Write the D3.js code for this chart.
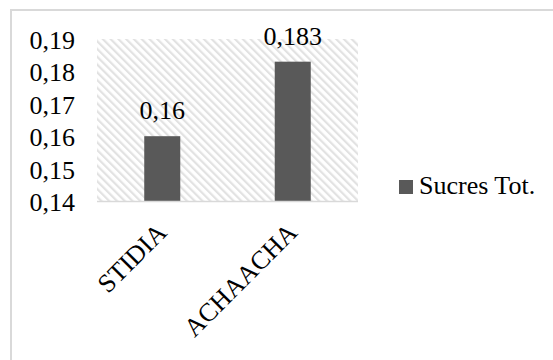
<!DOCTYPE html>
<html>
<head>
<meta charset="utf-8">
<script src="https://cdn.jsdelivr.net/npm/d3@7"></script>
<style>
  html, body { margin: 0; padding: 0; background: #fff; }
  svg { display: block; }
  text { font-family: "Liberation Serif", "Times New Roman", serif; fill: #000; }
</style>
</head>
<body>
<script>
// Chart data
const categories = ["STIDIA", "ACHAACHA"];
const values = [0.16, 0.183];
const valueLabels = ["0,16", "0,183"];
const yTicks = [0.14, 0.15, 0.16, 0.17, 0.18, 0.19];
const seriesName = "Sucres Tot.";

const W = 553, H = 360;
const plot = { left: 97, right: 358, top: 39, bottom: 201 };

const svg = d3.select("body").append("svg")
  .attr("width", W).attr("height", H);

// light diagonal hatch for the plot background
const defs = svg.append("defs");
const pat = defs.append("pattern")
  .attr("id", "hatch")
  .attr("patternUnits", "userSpaceOnUse")
  .attr("width", 5.5).attr("height", 8)
  .attr("patternTransform", "rotate(-45)");
pat.append("rect").attr("width", 5.5).attr("height", 8).attr("fill", "#fff");
pat.append("rect").attr("x", 0).attr("y", 0).attr("width", 2.2).attr("height", 8).attr("fill", "#e2e2e2");

// outer frame
svg.append("rect")
  .attr("x", 11).attr("y", 10)
  .attr("width", W).attr("height", H)
  .attr("fill", "none").attr("stroke", "#d9d9d9").attr("stroke-width", 2);

const x = d3.scaleBand()
  .domain(categories)
  .range([plot.left, plot.right])
  .paddingInner(0.724).paddingOuter(0.362);

const y = d3.scaleLinear()
  .domain([0.14, 0.19])
  .range([plot.bottom, plot.top]);

svg.append("rect")
  .attr("x", plot.left).attr("y", plot.top)
  .attr("width", plot.right - plot.left).attr("height", plot.bottom - plot.top)
  .attr("fill", "url(#hatch)");

// y axis labels
const yAxis = d3.axisLeft(y)
  .tickValues(yTicks)
  .tickSize(0).tickPadding(0)
  .tickFormat(d => d3.format(".2f")(d).replace(".", ","));
const gy = svg.append("g").attr("transform", `translate(75,1)`).call(yAxis);
gy.select(".domain").remove();
gy.selectAll("text")
  .style("font-family", '"Liberation Serif", serif')
  .style("font-size", "26px").attr("fill", "#000")
  .attr("dy", "0.33em");

// bars
svg.selectAll("rect.bar")
  .data(values)
  .join("rect")
  .attr("class", "bar")
  .attr("x", (d, i) => x(categories[i]))
  .attr("width", x.bandwidth())
  .attr("y", d => y(d))
  .attr("height", d => y(0.14) - y(d))
  .attr("fill", "#595959");

// baseline
svg.append("line")
  .attr("x1", plot.left).attr("x2", plot.right)
  .attr("y1", plot.bottom + 0.5).attr("y2", plot.bottom + 0.5)
  .attr("stroke", "#d9d9d9").attr("stroke-width", 1.5);

// value labels
svg.selectAll("text.vlabel")
  .data(values)
  .join("text")
  .attr("class", "vlabel")
  .attr("x", (d, i) => x(categories[i]) + x.bandwidth() / 2)
  .attr("y", d => y(d) - 17)
  .attr("text-anchor", "middle")
  .style("font-size", "26px")
  .text((d, i) => valueLabels[i]);

// rotated category labels
const xAxis = d3.axisBottom(x).tickSize(0).tickPadding(0);
const gx = svg.append("g").attr("transform", `translate(0,${plot.bottom})`).call(xAxis);
gx.select(".domain").remove();
gx.selectAll("text")
  .style("font-family", '"Liberation Serif", serif')
  .style("font-size", "26px").attr("fill", "#000")
  .attr("text-anchor", "end")
  .attr("dy", 0).attr("y", 0)
  .attr("transform", "translate(6,33) rotate(-45)");

// legend
const lg = svg.append("g").attr("transform", "translate(399,180)");
lg.append("rect").attr("width", 14).attr("height", 14).attr("fill", "#595959");
lg.append("text").attr("x", 20).attr("y", 14).style("font-size", "26px").text(seriesName);
</script>
</body>
</html>
